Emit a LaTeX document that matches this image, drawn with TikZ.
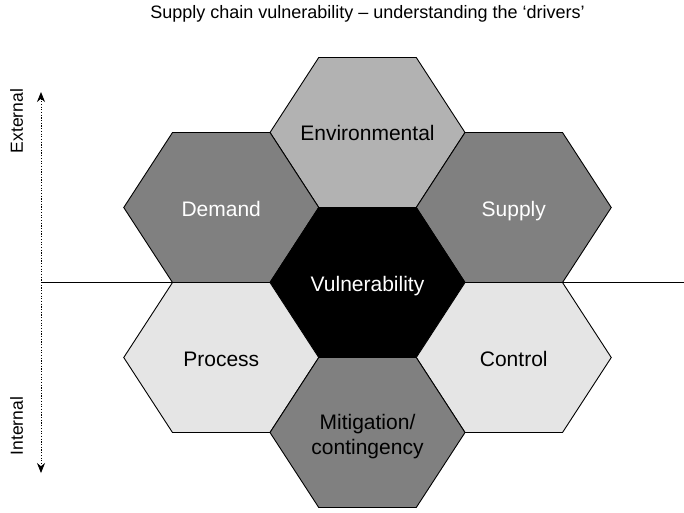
\documentclass[tikz,border=0pt]{standalone}
\usepackage{fontspec}
\setmainfont{Liberation Sans}
\usetikzlibrary{arrows.meta}
\definecolor{envgray}{gray}{0.70}
\definecolor{midgray}{gray}{0.50}
\definecolor{lightgray}{gray}{0.90}
\tikzset{
  hexedge/.style={draw=black, line width=0.9pt, line join=miter},
  pics/hexagon/.style={code={
    \draw[hexedge,#1] (-97.5,0) -- (-48.75,-75) -- (48.75,-75) -- (97.5,0)
      -- (48.75,75) -- (-48.75,75) -- cycle;}},
  hexlabel/.style={font=\fontsize{21}{25}\selectfont, align=center, inner sep=0pt, anchor=base},
  sidelabel/.style={font=\fontsize{17.5}{20}\selectfont, rotate=90, inner sep=0pt},
  axisarrow/.style={line width=0.9pt, dash pattern=on 1.2pt off 1.5pt, {Stealth[length=10pt,width=8pt]}-{Stealth[length=10pt,width=8pt]}}
}
\begin{document}
\begin{tikzpicture}[x=1pt,y=-1pt]
\useasboundingbox (0,0) rectangle (684,512);
\node[font=\fontsize{18}{21}\selectfont, inner sep=0pt, anchor=base] (title) at (367.5,18) {Supply chain vulnerability – understanding the ‘drivers’};
% axis line and arrow
\coordinate (lstart) at (41,282.5);
\coordinate (lend) at (684,282.5);
\draw[line width=0.9pt] (lstart) -- (lend);
\coordinate (atop) at (41,92);
\coordinate (abot) at (41,473);
\draw[axisarrow] (atop) -- (abot);
\node[sidelabel] (ext) at (16.5,121) {External};
\node[sidelabel] (int) at (16.5,426) {Internal};
% hexagons
\pic at (367.5,132.5) {hexagon={fill=envgray}};
\pic at (221.25,207.5) {hexagon={fill=midgray}};
\pic at (513.75,207.5) {hexagon={fill=midgray}};
\pic at (367.5,282.5) {hexagon={fill=black}};
\pic at (221.25,357.5) {hexagon={fill=lightgray}};
\pic at (513.75,357.5) {hexagon={fill=lightgray}};
\pic at (367.5,432.5) {hexagon={fill=midgray}};
\node[hexlabel] (env) at (367.5,140.5) {Environmental};
\node[hexlabel, text=white] (dem) at (221.25,216) {Demand};
\node[hexlabel, text=white] (sup) at (513.75,216) {Supply};
\node[hexlabel, text=white] (vul) at (367.5,291) {Vulnerability};
\node[hexlabel] (pro) at (221.25,366) {Process};
\node[hexlabel] (con) at (513.75,366.5) {Control};
\node[hexlabel] (mit) at (367.5,454) {Mitigation/\\contingency};
\end{tikzpicture}
\end{document}
